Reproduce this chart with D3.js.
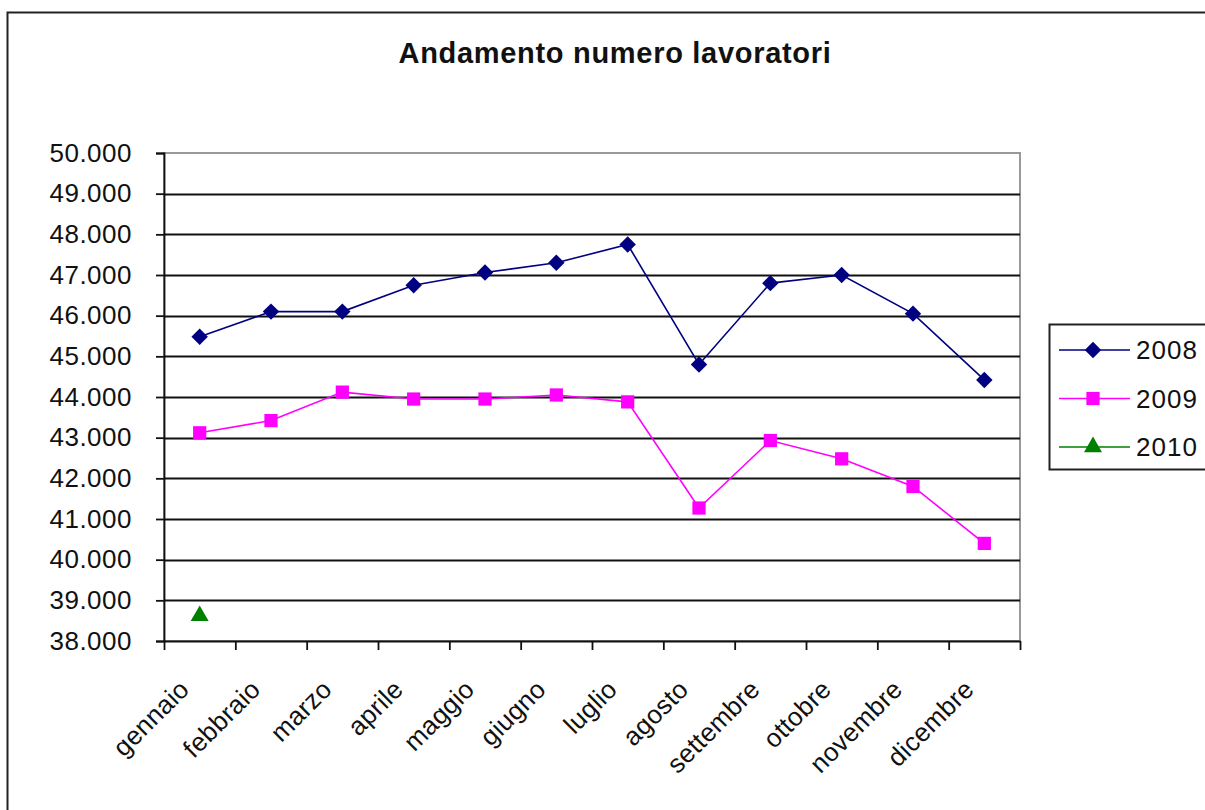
<!DOCTYPE html>
<html>
<head>
<meta charset="utf-8">
<script src="https://cdn.jsdelivr.net/npm/d3@7"></script>
<style>
  body { margin: 0; background: #fff; }
  text { font-family: "Liberation Sans", Arial, sans-serif; fill: #111; }
</style>
</head>
<body>
<div id="chart"></div>
<script>
// data
const months = ["gennaio", "febbraio", "marzo", "aprile", "maggio", "giugno",
    "luglio", "agosto", "settembre", "ottobre", "novembre", "dicembre"];
const years = ["2008", "2009", "2010"];
const values2008 = [45480, 46100, 46100, 46750, 47060, 47300, 47750, 44800, 46800, 47000, 46050, 44420];
const values2009 = [43120, 43420, 44120, 43950, 43950, 44050, 43880, 41270, 42930, 42480, 41800, 40400];
const values2010 = [38620];
const yTicks = [38000, 39000, 40000, 41000, 42000, 43000, 44000, 45000, 46000, 47000, 48000, 49000, 50000];

const series = [
    { name: years[0], values: values2008, color: "#000080", shape: "diamond" },
    { name: years[1], values: values2009, color: "#ff00ff", shape: "square" },
    { name: years[2], values: values2010, color: "#008000", shape: "triangle" }
];

var w = 1205, h = 810;
var margin = { top: 153, left: 164, right: 185, bottom: 169 };
var width = w - margin.left - margin.right,
    height = h - margin.top - margin.bottom;

// marker shapes: diamond is a square turned by 45 degrees
function marker(sel, shape) {
    if (shape === "diamond") {
        sel.attr("d", d3.symbol().type(d3.symbolSquare).size(135)());
        return "rotate(45)";
    }
    if (shape === "square") {
        sel.attr("d", d3.symbol().type(d3.symbolSquare).size(175)());
        return "";
    }
    sel.attr("d", d3.symbol().type(d3.symbolTriangle).size(140)());
    return "";
}

var root = d3.select("#chart").append("svg")
    .attr("width", w)
    .attr("height", h);

// outer frame (cut by the window on right and bottom)
root.append("rect")
    .attr("x", 7.5).attr("y", 12.5)
    .attr("width", w + 20).attr("height", h + 20)
    .attr("fill", "none").attr("stroke", "#222").attr("stroke-width", 2);

root.append("text")
    .attr("x", 615).attr("y", 63)
    .attr("text-anchor", "middle")
    .style("font-size", "29px").style("font-weight", "bold")
    .style("letter-spacing", "0.7px")
    .text("Andamento numero lavoratori");

var svg = root.append("g")
    .attr("transform", `translate(${margin.left}, ${margin.top})`);

var x = d3.scaleBand().domain(months).range([0, width]);
var y = d3.scaleLinear().domain([38000, 50000]).range([height, 0]);
var fmt = v => d3.format(",")(v).replace(/,/g, ".");

// plot area border
svg.append("rect")
    .attr("width", width).attr("height", height)
    .attr("fill", "none").attr("stroke", "#999").attr("stroke-width", 2);

// gridlines
svg.selectAll(".grid")
    .data(yTicks.filter(t => t > 38000 && t < 50000))
    .join("line")
    .attr("x1", 0).attr("x2", width)
    .attr("y1", d => Math.round(y(d)) + 0.5).attr("y2", d => Math.round(y(d)) + 0.5)
    .attr("stroke", "#111").attr("stroke-width", 1.8);

// axes
var yAxis = svg.append("g")
    .call(d3.axisLeft(y).tickValues(yTicks).tickFormat(fmt).tickSize(8).tickPadding(24));
yAxis.selectAll("text").style("font-size", "26px").style("letter-spacing", "0.5px").attr("fill", "#111");
yAxis.selectAll("line, path").attr("stroke", "#111").attr("stroke-width", 1.8);

var xAxis = svg.append("g")
    .attr("transform", `translate(0, ${height})`)
    .call(d3.axisBottom(d3.scaleLinear().domain([0, 12]).range([0, width]))
        .ticks(12).tickFormat("").tickSize(9).tickSizeOuter(0));
xAxis.selectAll("line, path").attr("stroke", "#111").attr("stroke-width", 1.8);

svg.append("g").selectAll("text")
    .data(months)
    .join("text")
    .attr("text-anchor", "end")
    .attr("transform", d => `translate(${x(d) + x.bandwidth() / 2 - 9}, ${height + 50}) rotate(-45)`)
    .style("font-size", "26px")
    .style("letter-spacing", "0.3px")
    .text(d => d);

// lines and markers
var line = d3.line()
    .x((d, i) => x(months[i]) + x.bandwidth() / 2)
    .y(d => y(d));

series.forEach(s => {
    svg.append("path")
        .attr("d", line(s.values))
        .attr("fill", "none")
        .attr("stroke", s.color)
        .attr("stroke-width", 1.6);
    svg.selectAll(null)
        .data(s.values)
        .join("path")
        .attr("fill", s.color)
        .each(function (d, i) {
            var rot = marker(d3.select(this), s.shape);
            d3.select(this).attr("transform",
                `translate(${x(months[i]) + x.bandwidth() / 2}, ${y(d)}) ${rot}`);
        });
});

// legend
var legend = root.append("g").attr("transform", "translate(1049, 324)");
legend.append("rect")
    .attr("x", 0.5).attr("y", 0.5)
    .attr("width", 200).attr("height", 145)
    .attr("fill", "#fff").attr("stroke", "#222").attr("stroke-width", 2);

series.forEach((s, i) => {
    var g = legend.append("g").attr("transform", `translate(0, ${26 + i * 48.5})`);
    g.append("line").attr("x1", 10).attr("x2", 81)
        .attr("stroke", s.color).attr("stroke-width", 1.6);
    var m = g.append("path").attr("fill", s.color);
    var rot = marker(m, s.shape);
    m.attr("transform", `translate(44, 0) ${rot}`);
    g.append("text").attr("x", 87).attr("y", 9)
        .style("font-size", "26px")
        .style("letter-spacing", "1px")
        .text(s.name);
});
</script>
</body>
</html>
